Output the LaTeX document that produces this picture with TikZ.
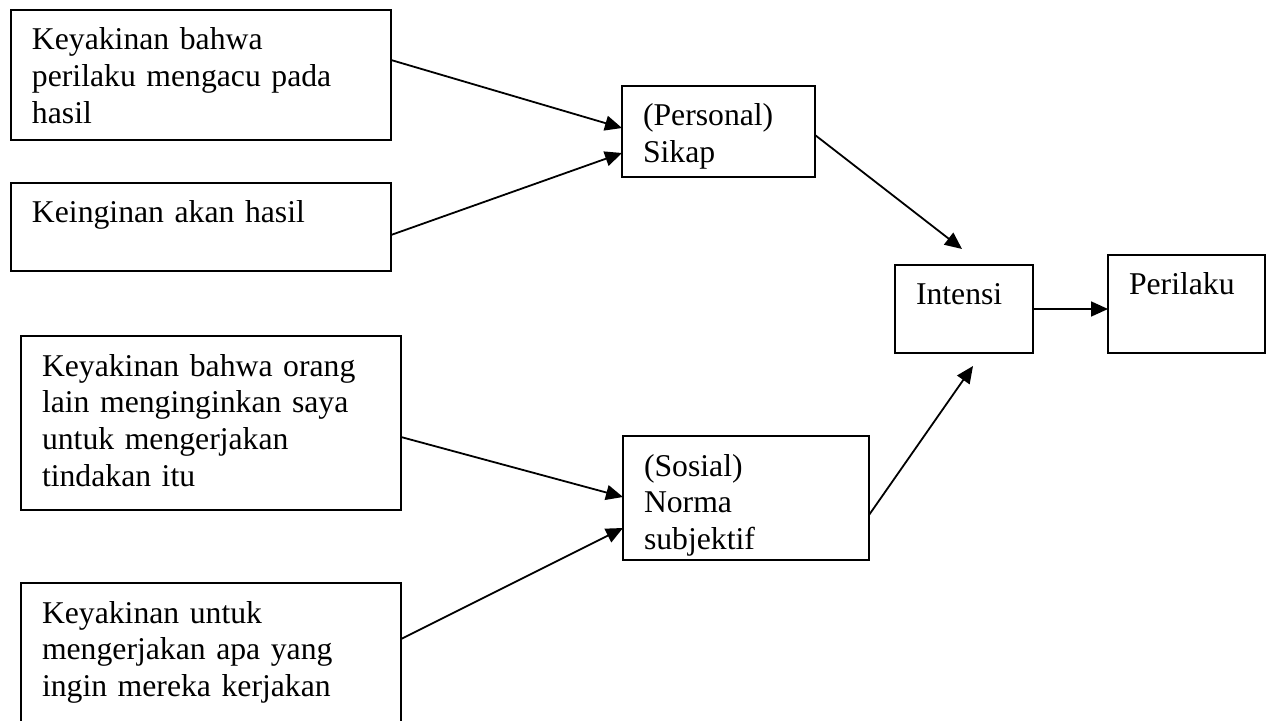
\documentclass[tikz,border=0pt]{standalone}
\usepackage{fontspec}
\setmainfont{Liberation Serif}
\usepackage{tikz}
\usetikzlibrary{arrows.meta, positioning, calc}
\tikzset{
	% box with text at its top left: #1 text width, #2 text depth
	kotak/.style 2 args={rectangle, draw=black, line width=0.9pt, anchor=north west, align=left, inner xsep=10.5pt, inner ysep=0pt, outer sep=0pt, text height=20pt, text width=#1, text depth=#2},
	panah/.style={-{Triangle[length=8.5pt, width=7.5pt]}, line width=0.9pt},
}

\begin{document}
\begin{tikzpicture}[x=0.5pt, y=-0.5pt, font=\fontsize{15.85}{18.35}\selectfont]
	\useasboundingbox (0,0) rectangle (1272,721);
	% sikap
	\node[kotak={169pt}{45pt}] (yakinHasil) at (11,10) {Keyakinan bahwa\\ perilaku mengacu pada\\ hasil};
	\node[kotak={169pt}{24pt}] (inginHasil) at (11,183) {Keinginan akan hasil};
	\node[kotak={75.5pt}{25.5pt}] (sikap) at (622,86) {(Personal)\\ Sikap};
	% norma
	\node[kotak={169pt}{67pt}] (yakinOrang) at (21,336) {Keyakinan bahwa orang\\ lain menginginkan saya\\ untuk mengerjakan\\ tindakan itu};
	\node[kotak={169pt}{60pt}] (yakinKerja) at (21,583) {Keyakinan untuk\\ mengerjakan apa yang\\ ingin mereka kerjakan};
	\node[kotak={102pt}{42pt}] (norma) at (623,436) {(Sosial)\\ Norma\\ subjektif};
	% intensi, perilaku
	\node[kotak={48pt}{24pt}] (intensi) at (895,265) {Intensi};
	\node[kotak={57.5pt}{29pt}] (perilaku) at (1108,255) {Perilaku};

	\draw[panah] ([yshift=-25pt]yakinHasil.north east) -- ([yshift=-21pt]sikap.north west);
	\draw[panah] ([yshift=-26pt]inginHasil.north east) -- ([yshift=-33.5pt]sikap.north west);
	\draw[panah] ([yshift=-24.5pt]sikap.north east) -- ([xshift=-1pt, yshift=8pt]intensi.north);
	\draw[panah] ([yshift=-50.5pt]yakinOrang.north east) -- ([yshift=-30.5pt]norma.north west);
	\draw[panah] ([yshift=-28pt]yakinKerja.north east) -- ([yshift=-46pt]norma.north west);
	\draw[panah] ([yshift=-39.5pt]norma.north east) -- ([xshift=4.5pt, yshift=-6.5pt]intensi.south);
	\draw[panah] (intensi.east) -- (intensi.east -| perilaku.west);
\end{tikzpicture}
\end{document}
